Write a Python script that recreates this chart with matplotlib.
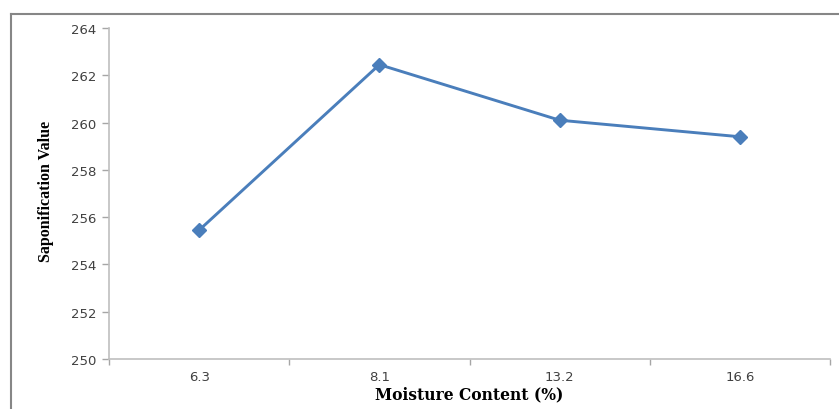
import matplotlib
matplotlib.use("Agg")
import matplotlib.pyplot as plt
from matplotlib.lines import Line2D

categories = ["6.3", "8.1", "13.2", "16.6"]
values = [255.45, 262.45, 260.1, 259.4]
yticks = [250, 252, 254, 256, 258, 260, 262, 264]

W, H = 839, 410
fig = plt.figure(figsize=(W / 100, H / 100), dpi=100)
fig.patch.set_facecolor("white")

ax = fig.add_axes([109 / W, 1 - 360 / H, (830 - 109) / W, (360 - 29) / H])

x = list(range(len(categories)))
ax.plot(x, values, color="#4A7EBB", lw=2.1, marker="D", ms=7.5,
        markerfacecolor="#4A7EBB", markeredgecolor="#4A7EBB", zorder=3)

ax.set_xlim(-0.5, len(categories) - 0.5)
ax.set_ylim(250, 264)
ax.set_yticks(yticks)
ax.set_yticklabels([str(v) for v in yticks], fontsize=9.5, color="#404040",
                   family="DejaVu Sans")
ax.set_xticks(x)
ax.set_xticklabels(categories, fontsize=9.5, color="#404040", family="DejaVu Sans")
ax.tick_params(axis="x", length=0, pad=8)
ax.tick_params(axis="y", length=5, width=1, color="#A6A6A6", pad=4)

# category boundary ticks on x axis
bounds = [i - 0.5 for i in range(len(categories) + 1)]
ax.set_xticks(bounds, minor=True)
ax.tick_params(axis="x", which="minor", length=4, width=1, color="#A6A6A6")

for s in ["top", "right"]:
    ax.spines[s].set_visible(False)
for s in ["left", "bottom"]:
    ax.spines[s].set_color("#BFBFBF")
    ax.spines[s].set_linewidth(1.2)

fig.text(46 / W, 1 - 191 / H, "Saponification Value", rotation=90,
         ha="center", va="center", fontsize=11.5, fontweight="bold",
         family="Liberation Serif", color="black")
fig.text(469 / W, 1 - 395 / H, "Moisture Content (%)",
         ha="center", va="center", fontsize=11.2, fontweight="bold",
         family="DejaVu Serif", color="black")

# outer chart border (left and top visible)
fig.add_artist(Line2D([11 / W, 11 / W], [0, 1 - 15 / H], transform=fig.transFigure,
                      color="#868686", lw=1.5))
fig.add_artist(Line2D([11 / W, 1.0], [1 - 15 / H, 1 - 15 / H], transform=fig.transFigure,
                      color="#868686", lw=1.5))

fig.savefig("out.png", dpi=100, facecolor="white")
